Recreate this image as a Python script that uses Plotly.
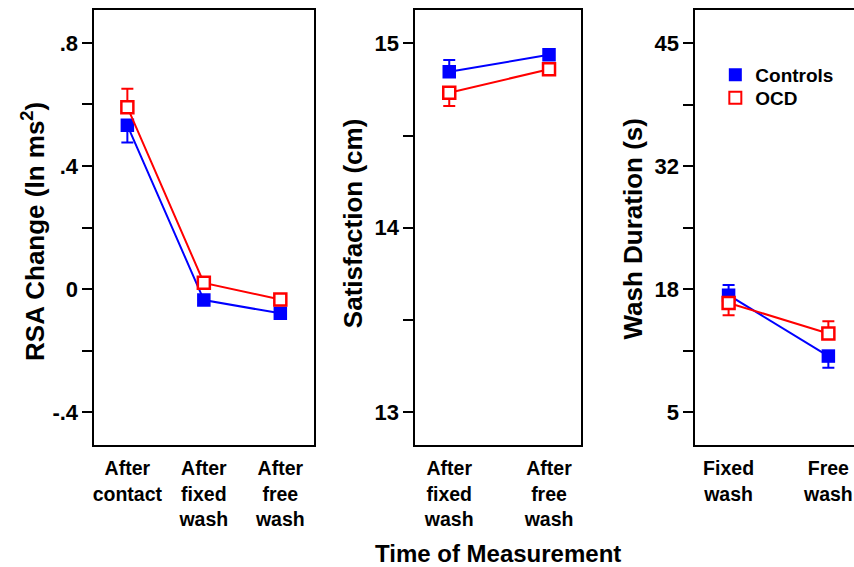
import plotly.graph_objects as go

# ---------------- data ----------------
rsa_categories = ["After<br>contact", "After<br>fixed<br>wash", "After<br>free<br>wash"]
rsa_controls = [0.532, -0.036, -0.079]
rsa_ocd = [0.591, 0.020, -0.034]
rsa_controls_err = [0.056, 0.015, 0.015]
rsa_ocd_err = [0.060, 0.015, 0.015]
rsa_ticks = [-0.4, 0.0, 0.4, 0.8]
rsa_ticklabels = ["-.4", "0", ".4", ".8"]
rsa_minor = [-0.2, 0.2, 0.6]

sat_categories = ["After<br>fixed<br>wash", "After<br>free<br>wash"]
sat_controls = [14.846, 14.937]
sat_ocd = [14.732, 14.859]
sat_controls_err = [0.063, 0.02]
sat_ocd_err = [0.072, 0.02]
sat_ticks = [13, 14, 15]
sat_ticklabels = ["13", "14", "15"]
sat_minor = [13.5, 14.5]

wash_categories = ["Fixed<br>wash", "Free<br>wash"]
wash_controls = [17.7, 11.1]
wash_ocd = [16.86, 13.55]
wash_controls_err = [1.1, 1.27]
wash_ocd_err = [1.33, 1.33]
wash_ticks = [5, 18.333, 31.667, 45]
wash_ticklabels = ["5", "18", "32", "45"]
wash_minor = [11.667, 25, 38.333]

BLUE = "#0000ff"
RED = "#ff0000"
FONT = "Liberation Sans"

fig = go.Figure()

def add_panel(cats, ctrl, ocd, ctrl_err, ocd_err, xa, ya):
    xs = list(range(len(cats)))
    # error bars go outward: the higher group upward, the lower group downward
    c_up = [e if c >= o else 0 for c, o, e in zip(ctrl, ocd, ctrl_err)]
    c_dn = [0 if c >= o else e for c, o, e in zip(ctrl, ocd, ctrl_err)]
    o_up = [e if o > c else 0 for c, o, e in zip(ctrl, ocd, ocd_err)]
    o_dn = [0 if o > c else e for c, o, e in zip(ctrl, ocd, ocd_err)]
    fig.add_trace(go.Scatter(
        x=xs, y=ctrl, mode="lines+markers", xaxis=xa, yaxis=ya, showlegend=False,
        line=dict(color=BLUE, width=2),
        marker=dict(symbol="square", size=13.5, color=BLUE, line=dict(width=0)),
        error_y=dict(type="data", symmetric=False, array=c_up, arrayminus=c_dn,
                     color=BLUE, thickness=2, width=6)))
    fig.add_trace(go.Scatter(
        x=xs, y=ocd, mode="lines+markers", xaxis=xa, yaxis=ya, showlegend=False,
        line=dict(color=RED, width=2),
        marker=dict(symbol="square", size=12, color="white", line=dict(color=RED, width=2.5)),
        error_y=dict(type="data", symmetric=False, array=o_up, arrayminus=o_dn,
                     color=RED, thickness=2, width=6)))

add_panel(rsa_categories, rsa_controls, rsa_ocd, rsa_controls_err, rsa_ocd_err, "x", "y")
add_panel(sat_categories, sat_controls, sat_ocd, sat_controls_err, sat_ocd_err, "x2", "y2")
add_panel(wash_categories, wash_controls, wash_ocd, wash_controls_err, wash_ocd_err, "x3", "y3")

# legend-only traces (one legend box each, for tight spacing)
fig.add_trace(go.Scatter(x=[None], y=[None], mode="markers", name="Controls",
                         xaxis="x3", yaxis="y3", legend="legend",
                         marker=dict(symbol="square", size=13, color=BLUE)))
fig.add_trace(go.Scatter(x=[None], y=[None], mode="markers", name="OCD",
                         xaxis="x3", yaxis="y3", legend="legend2",
                         marker=dict(symbol="square", size=12, color="white",
                                     line=dict(color=RED, width=2))))

W, H = 854, 567
ydom = [1 - 445 / H, 1 - 10 / H]

def xaxis_cfg(dom, rng, cats, anchor):
    return dict(domain=dom, range=rng, anchor=anchor, tickmode="array",
                tickvals=list(range(len(cats))),
                ticktext=cats, showline=True, linecolor="black", linewidth=2, mirror=True,
                ticks="outside", ticklen=5, tickcolor="rgba(0,0,0,0)", showgrid=False,
                zeroline=False, fixedrange=True,
                tickfont=dict(family=FONT, size=19.5, color="black", weight="bold"))

def yaxis_cfg(rng, tv, tt, minor, anchor, mirror=True):
    return dict(domain=ydom, range=rng, anchor=anchor, tickmode="array", tickvals=tv,
                ticktext=tt,
                showline=True, linecolor="black", linewidth=2, mirror=mirror,
                ticks="outside", ticklen=10, tickwidth=2, tickcolor="black",
                showgrid=False, zeroline=False, fixedrange=True,
                minor=dict(tickmode="array", tickvals=minor, ticks="outside", ticklen=10,
                           tickwidth=2, tickcolor="black", showgrid=False),
                tickfont=dict(family=FONT, size=22, color="black", weight="bold"))

legend_common = dict(xanchor="left", yanchor="top", bgcolor="rgba(0,0,0,0)",
                     itemwidth=30, font=dict(family=FONT, size=19, color="black", weight="bold"))

fig.update_layout(
    width=W, height=H,
    margin=dict(l=0, r=0, t=0, b=0),
    paper_bgcolor="white", plot_bgcolor="white",
    xaxis=xaxis_cfg([92.7 / W, 312.7 / W], [-0.43, 2.44], rsa_categories, "y"),
    xaxis2=xaxis_cfg([414.3 / W, 580 / W], [-0.34, 1.317], sat_categories, "y2"),
    xaxis3=xaxis_cfg([695 / W, 1.0], [-0.333, 1.257], wash_categories, "y3"),
    yaxis=yaxis_cfg([-0.507, 0.907], rsa_ticks, rsa_ticklabels, rsa_minor, "x"),
    yaxis2=yaxis_cfg([12.823, 15.18], sat_ticks, sat_ticklabels, sat_minor, "x2"),
    yaxis3=yaxis_cfg([1.46, 48.61], wash_ticks, wash_ticklabels, wash_minor, "x3", mirror=False),
    showlegend=True,
    legend=dict(x=715 / W, y=1 - 56 / H, **legend_common),
    legend2=dict(x=715 / W, y=1 - 79 / H, **legend_common),
    annotations=[
        dict(text="RSA Change (ln ms<sup>2</sup>)", textangle=-90, x=31 / W, y=1 - 231 / H,
             xref="paper", yref="paper", showarrow=False, xanchor="center", yanchor="middle",
             font=dict(family=FONT, size=26, color="black", weight="bold")),
        dict(text="Satisfaction (cm)", textangle=-90, x=352 / W, y=1 - 223 / H,
             xref="paper", yref="paper", showarrow=False, xanchor="center", yanchor="middle",
             font=dict(family=FONT, size=26, color="black", weight="bold")),
        dict(text="Wash Duration (s)", textangle=-90, x=632 / W, y=1 - 229 / H,
             xref="paper", yref="paper", showarrow=False, xanchor="center", yanchor="middle",
             font=dict(family=FONT, size=26, color="black", weight="bold")),
        dict(text="Time of Measurement", x=497 / W, y=1 - 553 / H,
             xref="paper", yref="paper", showarrow=False, xanchor="center", yanchor="middle",
             font=dict(family=FONT, size=24, color="black", weight="bold")),
    ],
)

fig.write_html("out.html", config={"displayModeBar": False},
               post_script="document.body.style.margin='0px';document.body.style.padding='0px';")
